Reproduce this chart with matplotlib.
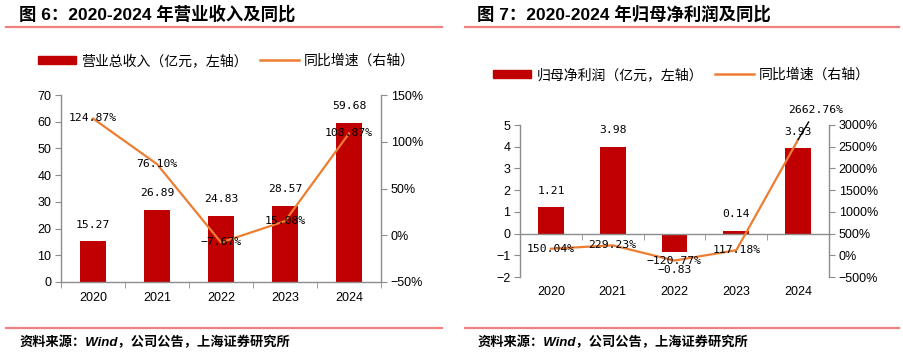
import matplotlib
matplotlib.use("Agg")
import matplotlib.pyplot as plt
from matplotlib.lines import Line2D
from matplotlib.patches import Patch
import numpy as np

# ---------------- data ----------------
years = ["2020", "2021", "2022", "2023", "2024"]
revenue = [15.27, 26.89, 24.83, 28.57, 59.68]
revenue_yoy = [124.87, 76.10, -7.67, 15.08, 108.87]
profit = [1.21, 3.98, -0.83, 0.14, 3.93]
profit_yoy = [150.04, 229.23, -120.77, 117.18, 2662.76]

title1 = "图 6：2020-2024 年营业收入及同比"
title2 = "图 7：2020-2024 年归母净利润及同比"
legend1 = ["营业总收入（亿元，左轴）", "同比增速（右轴）"]
legend2 = ["归母净利润（亿元，左轴）", "同比增速（右轴）"]
source = "资料来源：Wind，公司公告，上海证券研究所"

# ---------------- style ----------------
BAR = "#C00000"
LINE = "#ED7D31"
SPINE = "#8C8C8C"
RULE = "#F07F7F"
TICKF = ["Liberation Sans", "Noto Sans CJK SC"]
LABF = ["DejaVu Sans Mono", "Noto Sans CJK SC"]
CJK = ["Noto Sans CJK SC", "DejaVu Sans"]
TITLEF = ["Liberation Sans", "Noto Sans CJK SC"]
TS = 9      # tick label size
LS = 8.2    # data label size

W, H = 904, 355
fig = plt.figure(figsize=(W / 100, H / 100), dpi=100)


def px_axes(l, t, r, b):
    return fig.add_axes([l / W, 1 - b / H, (r - l) / W, (b - t) / H])


def fmt(v, pct=False):
    s = f"{v:.2f}" + ("%" if pct else "")
    return s.replace("-", "\u2212")


def style_axes(ax, ax2):
    for a in (ax, ax2):
        a.spines["top"].set_visible(False)
        for s in a.spines.values():
            s.set_color(SPINE)
            s.set_linewidth(1.0)
    ax.spines["right"].set_visible(False)
    ax2.spines["left"].set_visible(False)
    ax2.spines["bottom"].set_visible(False)
    ax.tick_params(axis="y", direction="out", length=4, color=SPINE,
                   labelsize=TS, pad=3)
    ax2.tick_params(axis="y", direction="out", length=4, color=SPINE,
                    labelsize=TS, pad=3)
    for lab in ax.get_yticklabels() + ax2.get_yticklabels():
        lab.set_fontfamily(TICKF)
    x = np.arange(len(years))
    ax.set_xlim(-0.5, len(years) - 0.5)
    ax.set_xticks(x)
    ax.set_xticks(np.arange(-0.5, len(years)), minor=True)
    ax.tick_params(axis="x", which="major", length=0)
    ax.tick_params(axis="x", which="minor", direction="out", length=4,
                   color=SPINE)


def header(x0, x1, title, tx):
    fig.text(tx / W, 1 - 14 / H, title, fontsize=12.5, fontweight="bold",
             family=TITLEF, va="center", ha="left")
    fig.add_artist(Line2D([x0 / W, x1 / W], [1 - 26.5 / H, 1 - 26.5 / H],
                          color=RULE, lw=1.6))
    fig.add_artist(Line2D([x0 / W, x1 / W], [1 - 328 / H, 1 - 328 / H],
                          color=RULE, lw=1.6))
    fig.text((tx + 1) / W, 1 - 342 / H, source, fontsize=9.5,
             fontweight="bold", style="italic", family=TITLEF,
             va="center", ha="left")


def add_legend(ax, labels, cx, cy):
    ax.legend([Patch(color=BAR), Line2D([], [], color=LINE, lw=1.8)], labels,
              loc="center", bbox_to_anchor=(cx / W, 1 - cy / H),
              bbox_transform=fig.transFigure, ncol=2, frameon=False,
              prop={"family": CJK, "size": 10, "weight": "light"},
              handlelength=2.8, handletextpad=0.35, columnspacing=0.85,
              handleheight=0.55, borderpad=0)


x = np.arange(len(years))

# ======== left panel ========
ax1 = px_axes(61, 95, 381, 282)
ax1b = ax1.twinx()
ax1.bar(x, revenue, width=0.42, color=BAR, zorder=2)
ax1.set_ylim(0, 70)
ax1.set_yticks(np.arange(0, 71, 10))
ax1b.set_ylim(-50, 150)
ax1b.set_yticks(np.arange(-50, 151, 50))
ax1b.set_yticklabels([f"{v}%".replace("-", "\u2212") for v in range(-50, 151, 50)])
ax1b.plot(x, revenue_yoy, color=LINE, lw=1.6, zorder=3)
style_axes(ax1, ax1b)
ax1.set_xticklabels(years, fontsize=TS, family=TICKF)
ax1.tick_params(axis="x", which="major", pad=7.5)
for xi, v in zip(x, revenue):
    ax1.annotate(fmt(v), (xi, v), xytext=(0, 12), textcoords="offset points",
                 ha="center", va="center", fontsize=LS, family=LABF)
for xi, v in zip(x, revenue_yoy):
    ax1b.text(xi, v, fmt(v, True), ha="center", va="center", fontsize=LS,
              family=LABF, zorder=5)
add_legend(ax1, legend1, 226, 61)
header(6, 442, title1, 19)

# ======== right panel ========
ax2 = px_axes(520, 125, 829, 277)
ax2b = ax2.twinx()
ax2.bar(x, profit, width=0.42, color=BAR, zorder=2)
ax2.set_ylim(-2, 5)
ax2.set_yticks(np.arange(-2, 6, 1))
ax2b.set_ylim(-500, 3000)
ax2b.set_yticks(np.arange(-500, 3001, 500))
ax2b.set_yticklabels([f"{v}%".replace("-", "\u2212") for v in range(-500, 3001, 500)])
ax2b.plot(x, profit_yoy, color=LINE, lw=1.6, zorder=3)
style_axes(ax2, ax2b)
ax2.spines["bottom"].set_position(("data", 0))
ax2.set_xticklabels([])
for xi, yr in zip(x, years):
    ax2.text(xi, -0.1, yr, transform=ax2.get_xaxis_transform(), ha="center",
             va="center", fontsize=TS, family=TICKF)
for xi, v in zip(x, profit):
    off = 12 if v >= 0 else -13
    ax2.annotate(fmt(v), (xi, v), xytext=(0, off), textcoords="offset points",
                 ha="center", va="center", fontsize=LS, family=LABF)
for i, (xi, v) in enumerate(zip(x, profit_yoy)):
    if i == len(years) - 1:
        ax2b.annotate(fmt(v, True), (xi, v), xytext=(12.5, 21),
                      textcoords="offset points", ha="center", va="center",
                      fontsize=LS, family=LABF, zorder=5, annotation_clip=False,
                      arrowprops=dict(arrowstyle="-", color="black", lw=1.0,
                                      shrinkA=3, shrinkB=0))
    else:
        ax2b.text(xi, v, fmt(v, True), ha="center", va="center", fontsize=LS,
                  family=LABF, zorder=5)
add_legend(ax2, legend2, 681, 75)
header(465, 899, title2, 477)

fig.savefig("out.png", dpi=100)
